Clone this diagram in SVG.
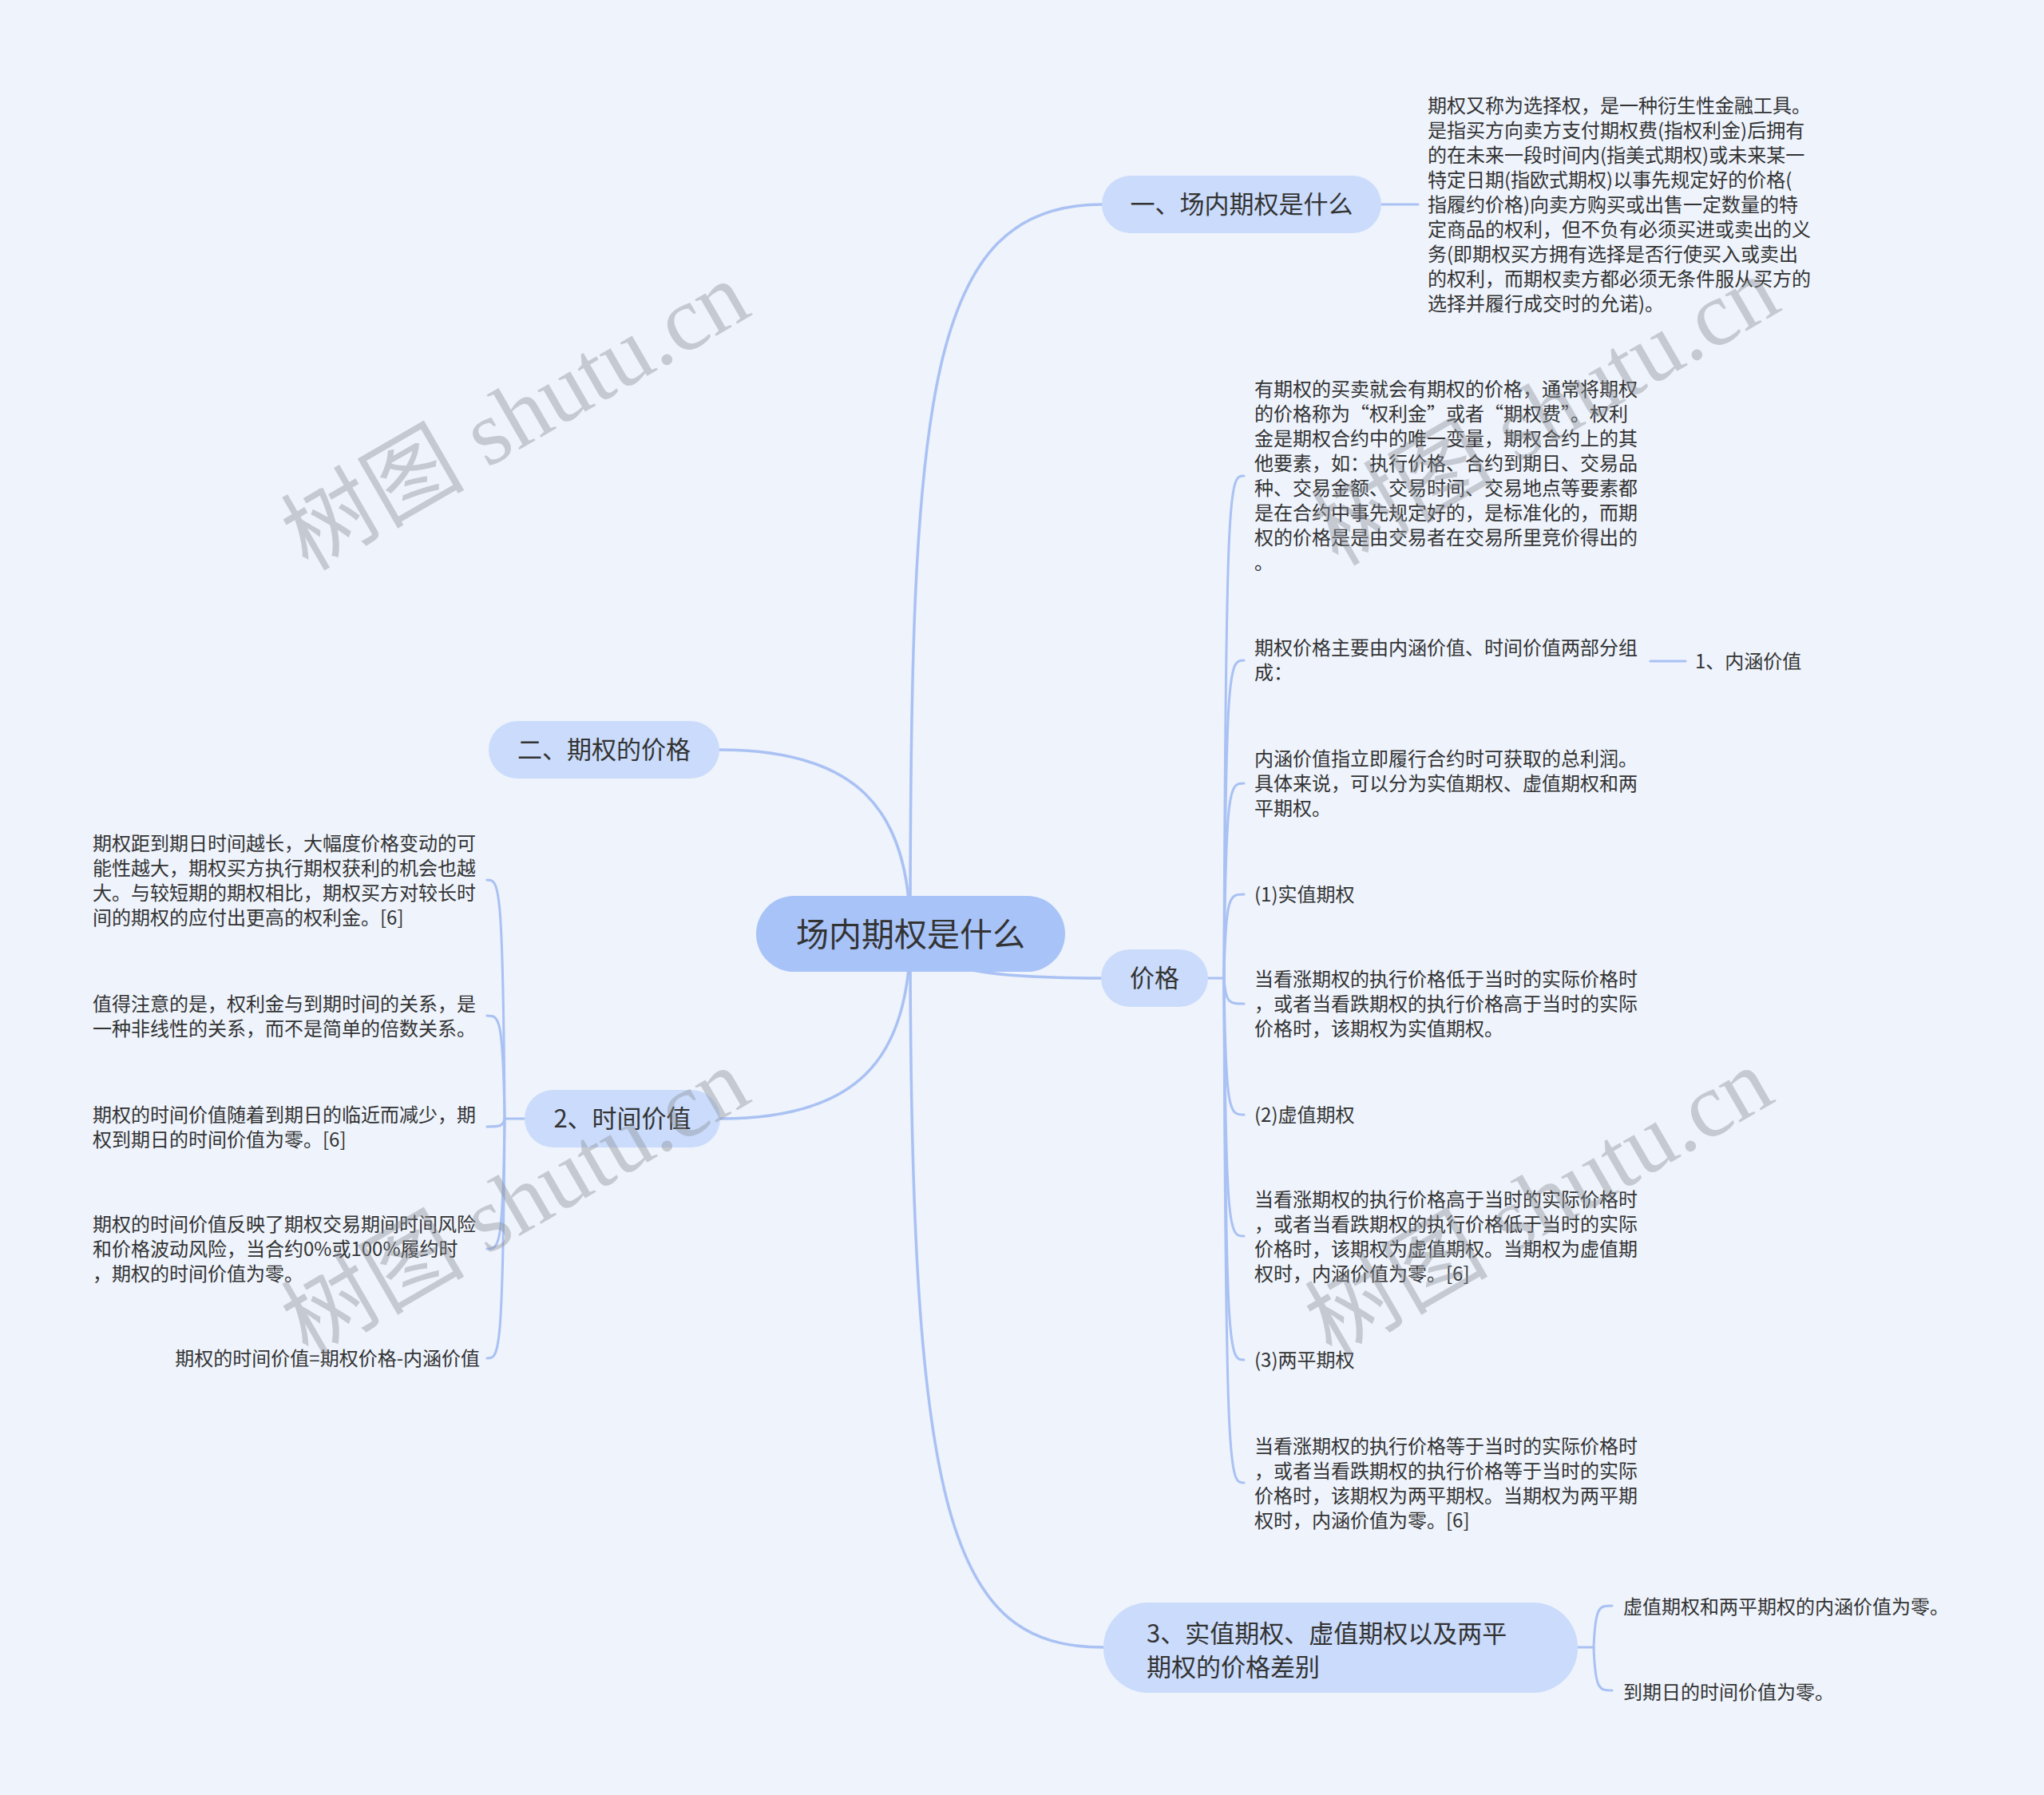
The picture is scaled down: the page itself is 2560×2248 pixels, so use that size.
<svg xmlns="http://www.w3.org/2000/svg" width="2560" height="2248" viewBox="0 0 2560 2248">
<style>
.t{font-family:"Noto Sans CJK SC","Noto Sans",sans-serif;font-size:24px;fill:#333333}
.b{font-size:31px}
.c{font-size:41px}
.link{fill:none;stroke:#a9c1f3;stroke-width:3.5;stroke-linecap:round}
.sub{fill:none;stroke:#a9c1f3;stroke-width:3;stroke-linecap:round}
.root{fill:#a8c3f8}
.br{fill:#cadbfb}
.wm{font-family:"Liberation Serif","Noto Sans CJK SC",serif;font-size:115px;fill:#8a8e96;opacity:0.4}
</style>
<rect x="0" y="0" width="2560" height="2248" fill="#eef3fc"/>
<g id="connectors">
<path class="link" d="M1140,1170 C1140,500 1160,256 1380,256"/>
<path class="link" d="M1140,1170 C1140,1010 1070,939 901,939"/>
<path class="link" d="M1140,1170 C1140,1330 1070,1401 902,1401"/>
<path class="link" d="M1140,1170 C1160,1222 1280,1225 1379,1225"/>
<path class="link" d="M1140,1170 C1140,1900 1190,2063 1382,2063"/>
<path class="sub" d="M1730,256 L1776,256"/>
<path class="sub" d="M2067,828 L2111,828"/>
<path class="sub" d="M1513,1225 L1533,1225"/>
<path class="sub" d="M1533,1225 C1535,596 1540,596 1558,596"/>
<path class="sub" d="M1533,1225 C1535,827 1540,827 1558,827"/>
<path class="sub" d="M1533,1225 C1535,981 1540,981 1558,981"/>
<path class="sub" d="M1533,1225 C1535,1120 1540,1120 1558,1120"/>
<path class="sub" d="M1533,1225 C1535,1257 1540,1257 1558,1257"/>
<path class="sub" d="M1533,1225 C1535,1396 1540,1396 1558,1396"/>
<path class="sub" d="M1533,1225 C1535,1548 1540,1548 1558,1548"/>
<path class="sub" d="M1533,1225 C1535,1703 1540,1703 1558,1703"/>
<path class="sub" d="M1533,1225 C1535,1857 1540,1857 1558,1857"/>
<path class="sub" d="M657,1401 L632,1401"/>
<path class="sub" d="M632,1401 C630,1102 625,1102 610,1102"/>
<path class="sub" d="M632,1401 C630,1272 625,1272 610,1272"/>
<path class="sub" d="M632,1401 C630,1411 625,1411 610,1411"/>
<path class="sub" d="M632,1401 C630,1564 625,1564 610,1564"/>
<path class="sub" d="M632,1401 C630,1701 625,1701 610,1701"/>
<path class="sub" d="M1976,2063 L1996,2063"/>
<path class="sub" d="M1996,2063 C1998,2011 2003,2011 2019,2011"/>
<path class="sub" d="M1996,2063 C1998,2117 2003,2117 2019,2117"/>
</g>
<g id="root">
<rect class="root" x="947" y="1122" width="387" height="95" rx="47.5"/>
<text class="t c" x="1140.5" y="1185" text-anchor="middle">场内期权是什么</text>
</g>
<g id="n1">
<rect class="br" x="1380" y="220" width="350" height="72" rx="36"/>
<text class="t b" x="1555" y="267" text-anchor="middle">一、场内期权是什么</text>
</g>
<g id="n1-text">
<text class="t" x="1788" y="141"><tspan x="1788">期权又称为选择权，是一种衍生性金融工具。</tspan><tspan x="1788" dy="31">是指买方向卖方支付期权费(指权利金)后拥有</tspan><tspan x="1788" dy="31">的在未来一段时间内(指美式期权)或未来某一</tspan><tspan x="1788" dy="31">特定日期(指欧式期权)以事先规定好的价格(</tspan><tspan x="1788" dy="31">指履约价格)向卖方购买或出售一定数量的特</tspan><tspan x="1788" dy="31">定商品的权利，但不负有必须买进或卖出的义</tspan><tspan x="1788" dy="31">务(即期权买方拥有选择是否行使买入或卖出</tspan><tspan x="1788" dy="31">的权利，而期权卖方都必须无条件服从买方的</tspan><tspan x="1788" dy="31">选择并履行成交时的允诺)。</tspan></text>
</g>
<g id="n2">
<rect class="br" x="612" y="903" width="289" height="72" rx="36"/>
<text class="t b" x="756.5" y="950" text-anchor="middle">二、期权的价格</text>
</g>
<g id="n-price">
<rect class="br" x="1379" y="1189" width="134" height="72" rx="36"/>
<text class="t b" x="1446" y="1236" text-anchor="middle">价格</text>
</g>
<g id="p1">
<text class="t" x="1571" y="496"><tspan x="1571">有期权的买卖就会有期权的价格，通常将期权</tspan><tspan x="1571" dy="31">的价格称为“权利金”或者“期权费”。权利</tspan><tspan x="1571" dy="31">金是期权合约中的唯一变量，期权合约上的其</tspan><tspan x="1571" dy="31">他要素，如：执行价格、合约到期日、交易品</tspan><tspan x="1571" dy="31">种、交易金额、交易时间、交易地点等要素都</tspan><tspan x="1571" dy="31">是在合约中事先规定好的，是标准化的，而期</tspan><tspan x="1571" dy="31">权的价格是是由交易者在交易所里竞价得出的</tspan><tspan x="1571" dy="31">。</tspan></text>
</g>
<g id="p2">
<text class="t" x="1571" y="820"><tspan x="1571">期权价格主要由内涵价值、时间价值两部分组</tspan><tspan x="1571" dy="31">成：</tspan></text>
</g>
<g id="p2a">
<text class="t" x="2123" y="837">1、内涵价值</text>
</g>
<g id="p3">
<text class="t" x="1571" y="959"><tspan x="1571">内涵价值指立即履行合约时可获取的总利润。</tspan><tspan x="1571" dy="31">具体来说，可以分为实值期权、虚值期权和两</tspan><tspan x="1571" dy="31">平期权。</tspan></text>
</g>
<g id="p4">
<text class="t" x="1571" y="1129">(1)实值期权</text>
</g>
<g id="p5">
<text class="t" x="1571" y="1235"><tspan x="1571">当看涨期权的执行价格低于当时的实际价格时</tspan><tspan x="1571" dy="31">，或者当看跌期权的执行价格高于当时的实际</tspan><tspan x="1571" dy="31">价格时，该期权为实值期权。</tspan></text>
</g>
<g id="p6">
<text class="t" x="1571" y="1405">(2)虚值期权</text>
</g>
<g id="p7">
<text class="t" x="1571" y="1511"><tspan x="1571">当看涨期权的执行价格高于当时的实际价格时</tspan><tspan x="1571" dy="31">，或者当看跌期权的执行价格低于当时的实际</tspan><tspan x="1571" dy="31">价格时，该期权为虚值期权。当期权为虚值期</tspan><tspan x="1571" dy="31">权时，内涵价值为零。[6]</tspan></text>
</g>
<g id="p8">
<text class="t" x="1571" y="1712">(3)两平期权</text>
</g>
<g id="p9">
<text class="t" x="1571" y="1820"><tspan x="1571">当看涨期权的执行价格等于当时的实际价格时</tspan><tspan x="1571" dy="31">，或者当看跌期权的执行价格等于当时的实际</tspan><tspan x="1571" dy="31">价格时，该期权为两平期权。当期权为两平期</tspan><tspan x="1571" dy="31">权时，内涵价值为零。[6]</tspan></text>
</g>
<g id="n-time">
<rect class="br" x="657" y="1365" width="245" height="72" rx="36"/>
<text class="t b" x="779.5" y="1412" text-anchor="middle">2、时间价值</text>
</g>
<g id="t1">
<text class="t" x="116" y="1065"><tspan x="116">期权距到期日时间越长，大幅度价格变动的可</tspan><tspan x="116" dy="31">能性越大，期权买方执行期权获利的机会也越</tspan><tspan x="116" dy="31">大。与较短期的期权相比，期权买方对较长时</tspan><tspan x="116" dy="31">间的期权的应付出更高的权利金。[6]</tspan></text>
</g>
<g id="t2">
<text class="t" x="116" y="1266"><tspan x="116">值得注意的是，权利金与到期时间的关系，是</tspan><tspan x="116" dy="31">一种非线性的关系，而不是简单的倍数关系。</tspan></text>
</g>
<g id="t3">
<text class="t" x="116" y="1405"><tspan x="116">期权的时间价值随着到期日的临近而减少，期</tspan><tspan x="116" dy="31">权到期日的时间价值为零。[6]</tspan></text>
</g>
<g id="t4">
<text class="t" x="116" y="1542"><tspan x="116">期权的时间价值反映了期权交易期间时间风险</tspan><tspan x="116" dy="31">和价格波动风险，当合约0%或100%履约时</tspan><tspan x="116" dy="31">，期权的时间价值为零。</tspan></text>
</g>
<g id="t5">
<text class="t" x="601" y="1710" text-anchor="end">期权的时间价值=期权价格-内涵价值</text>
</g>
<g id="n3">
<rect class="br" x="1382" y="2007" width="594" height="113" rx="56"/>
<text class="t b" x="1436" y="2057"><tspan x="1436">3、实值期权、虚值期权以及两平</tspan><tspan x="1436" dy="42">期权的价格差别</tspan></text>
</g>
<g id="n3a">
<text class="t" x="2033" y="2021">虚值期权和两平期权的内涵价值为零。</text>
</g>
<g id="n3b">
<text class="t" x="2033" y="2128">到期日的时间价值为零。</text>
</g>
<g id="watermarks">
<text class="wm" transform="translate(645,520) rotate(-30)" text-anchor="middle" y="40">树图 shutu.cn</text>
<text class="wm" transform="translate(1935,514) rotate(-30)" text-anchor="middle" y="40">树图 shutu.cn</text>
<text class="wm" transform="translate(645,1505) rotate(-30)" text-anchor="middle" y="40">树图 shutu.cn</text>
<text class="wm" transform="translate(1927,1505) rotate(-30)" text-anchor="middle" y="40">树图 shutu.cn</text>
</g>
</svg>
